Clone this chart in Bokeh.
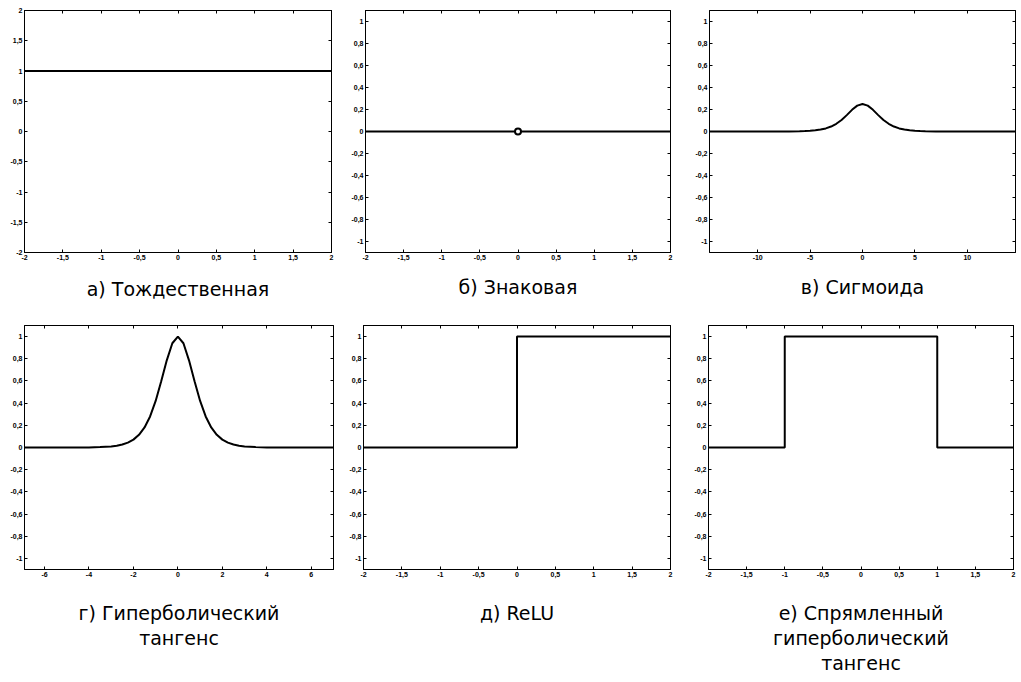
from bokeh.plotting import figure
from bokeh.models import LinearAxis, FixedTicker, Title
from bokeh.layouts import column, row
from bokeh.embed import file_html
from bokeh.resources import INLINE

# ---------------- data ----------------
captions = [
    ["а) Тождественная"],
    ["б) Знаковая"],
    ["в) Сигмоида"],
    ["г) Гиперболический", "тангенс"],
    ["д) ReLU"],
    ["е) Спрямленный", "гиперболический", "тангенс"],
]

ticks_2 = [-2, -1.5, -1, -0.5, 0, 0.5, 1, 1.5, 2]
labels_2 = ["-2", "-1,5", "-1", "-0,5", "0", "0,5", "1", "1,5", "2"]
ticks_1 = [-1, -0.8, -0.6, -0.4, -0.2, 0, 0.2, 0.4, 0.6, 0.8, 1]
labels_1 = ["-1", "-0,8", "-0,6", "-0,4", "-0,2", "0", "0,2", "0,4", "0,6", "0,8", "1"]
ticks_sig = [-10, -5, 0, 5, 10]
labels_sig = ["-10", "-5", "0", "5", "10"]
ticks_tanh = [-6, -4, -2, 0, 2, 4, 6]
labels_tanh = ["-6", "-4", "-2", "0", "2", "4", "6"]

# а) identity derivative
id_x = [-2, 2]
id_y = [1, 1]

# б) sign derivative
sign_left_x = [-2, 0]
sign_right_x = [0, 2]
sign_y = [0, 0]
sign_pt_x = [0]
sign_pt_y = [0]

# в) sigmoid derivative
sig_x = [-14.6, -10, -9, -8, -7, -6, -5.5, -5, -4.5, -4, -3.5, -3, -2.5, -2, -1.5,
         -1, -0.5, 0, 0.5, 1, 1.5, 2, 2.5, 3, 3.5, 4, 4.5, 5, 5.5, 6, 7, 8, 9, 10, 14.6]
sig_y = [0, 0, 0, 0, 0.001, 0.002, 0.004, 0.007, 0.011, 0.018, 0.028, 0.045, 0.070, 0.105, 0.149,
         0.197, 0.235, 0.25, 0.235, 0.197, 0.149, 0.105, 0.070, 0.045, 0.028, 0.018, 0.011, 0.007,
         0.004, 0.002, 0.001, 0, 0, 0, 0]

# г) tanh derivative
tanh_x = [-7, -5, -4, -3.5, -3, -2.75, -2.5, -2.25, -2, -1.75, -1.5, -1.25, -1, -0.75, -0.5,
          -0.25, 0, 0.25, 0.5, 0.75, 1, 1.25, 1.5, 1.75, 2, 2.25, 2.5, 2.75, 3, 3.5, 4, 5, 7]
tanh_y = [0, 0, 0.001, 0.004, 0.010, 0.016, 0.027, 0.044, 0.071, 0.114, 0.181, 0.280, 0.420,
          0.597, 0.786, 0.940, 1.0, 0.940, 0.786, 0.597, 0.420, 0.280, 0.181, 0.114, 0.071,
          0.044, 0.027, 0.016, 0.010, 0.004, 0.001, 0, 0]

# д) ReLU derivative
relu_x = [-2, 0, 0, 2]
relu_y = [0, 0, 1, 1]

# е) hard tanh derivative
htanh_x = [-2, -1, -1, 1, 1, 2]
htanh_y = [0, 0, 1, 1, 0, 0]

TICK_FONT = "Liberation Sans"
CAP_FONT = "DejaVu Sans"
CAP_SIZE = "19px"


def make_fig(width, height, xr, yr, xt, xl, yt, yl, caption, bl, br, bt, bb, cap_standoff):
    p = figure(width=width, height=height, x_range=xr, y_range=yr,
               output_backend="svg", toolbar_location=None,
               min_border_left=bl, min_border_right=br,
               min_border_top=bt, min_border_bottom=bb,
               background_fill_color="white", border_fill_color="white")
    p.grid.visible = False
    p.outline_line_color = "black"
    p.outline_line_width = 1
    bottom_axis = p.xaxis[0]
    left_axis = p.yaxis[0]
    for ax, t, l in ((bottom_axis, xt, xl), (left_axis, yt, yl)):
        ax.ticker = FixedTicker(ticks=t)
        ax.major_label_overrides = {tv: lv for tv, lv in zip(t, l)}
        ax.major_tick_in = 3
        ax.major_tick_out = 0
        ax.minor_tick_line_color = None
        ax.major_label_standoff = 2
        ax.major_label_text_font = TICK_FONT
        ax.major_label_text_font_size = "7px"
        ax.major_label_text_font_style = "bold"
        ax.major_label_text_color = "black"
        ax.axis_line_color = "black"
    # first caption line as the bottom axis label
    bottom_axis.axis_label = caption[0]
    bottom_axis.axis_label_standoff = cap_standoff
    bottom_axis.axis_label_text_font = CAP_FONT
    bottom_axis.axis_label_text_font_size = CAP_SIZE
    bottom_axis.axis_label_text_font_style = "normal"
    bottom_axis.axis_label_text_color = "black"
    # mirrored ticks on top / right (no labels)
    for loc, t in (("above", xt), ("right", yt)):
        ax = LinearAxis(ticker=FixedTicker(ticks=t))
        ax.major_label_overrides = {tv: "" for tv in t}
        ax.major_label_text_color = None
        ax.major_tick_in = 3
        ax.major_tick_out = 0
        ax.minor_tick_line_color = None
        ax.major_label_standoff = 0
        ax.axis_line_color = "black"
        p.add_layout(ax, loc)
    # further caption lines as titles below
    for i, line in enumerate(caption[1:]):
        t = Title(text=line, align="center", vertical_align="top", text_font=CAP_FONT,
                  text_font_size=CAP_SIZE, text_font_style="normal",
                  text_color="black", standoff=0 if i == 0 else 2)
        p.add_layout(t, "below")
    return p


LW = 2
H1, H2 = 308, 372

f1 = make_fig(338, H1, (-2, 2), (-2, 2), ticks_2, labels_2,
              [-2, -1.5, -1, -0.5, 0, 0.5, 1, 1.5, 2], labels_2, captions[0], 24, 7, 8, 56, 15)
f1.line(id_x, id_y, line_color="black", line_width=LW)

f2 = make_fig(344, H1, (-2, 2), (-1.1, 1.1), ticks_2, labels_2, ticks_1, labels_1,
              captions[1], 27, 12, 10, 54, 13)
f2.line(sign_left_x, sign_y, line_color="black", line_width=LW)
f2.line(sign_right_x, sign_y, line_color="black", line_width=LW)
f2.scatter(sign_pt_x, sign_pt_y, marker="circle", size=6, line_color="black",
           line_width=2, fill_color="white")

f3 = make_fig(338, H1, (-14.6, 14.6), (-1.1, 1.1), ticks_sig, labels_sig, ticks_1, labels_1,
              captions[2], 27, 5, 10, 54, 13)
f3.line(sig_x, sig_y, line_color="black", line_width=LW)

f4 = make_fig(338, H2, (-6.9, 7), (-1.1, 1.1), ticks_tanh, labels_tanh, ticks_1, labels_1,
              captions[3], 24, 5, 17, 111, 22)
f4.line(tanh_x, tanh_y, line_color="black", line_width=LW)

f5 = make_fig(344, H2, (-2, 2), (-1.1, 1.1), ticks_2, labels_2, ticks_1, labels_1,
              captions[4], 25, 12, 17, 111, 22)
f5.line(relu_x, relu_y, line_color="black", line_width=LW)

f6 = make_fig(338, H2, (-2, 2), (-1.1, 1.1), ticks_2, labels_2, ticks_1, labels_1,
              captions[5], 26, 7, 17, 111, 22)
f6.line(htanh_x, htanh_y, line_color="black", line_width=LW)

layout = column(row(f1, f2, f3, spacing=0), row(f4, f5, f6, spacing=0), spacing=0)

open("out.html", "w").write(file_html(layout, INLINE))
